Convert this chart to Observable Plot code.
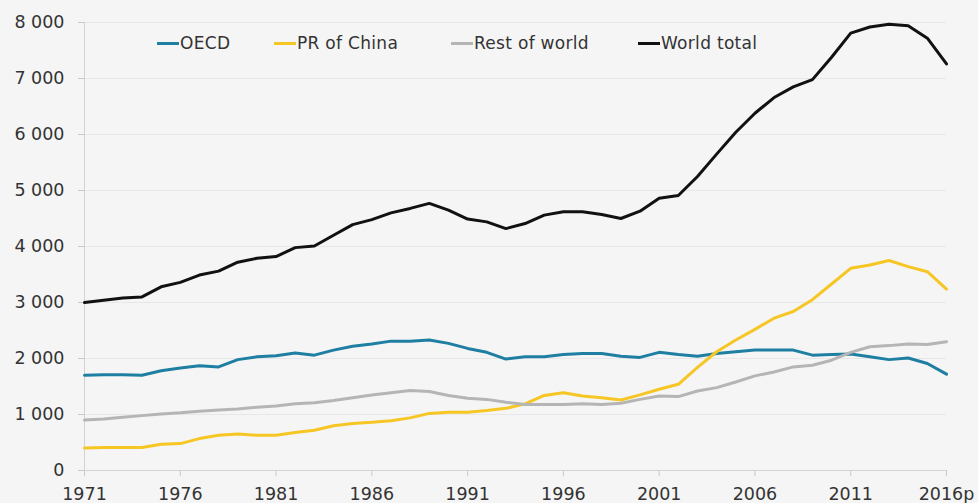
<!DOCTYPE html>
<html>
<head>
<meta charset="utf-8">
<script src="https://cdn.jsdelivr.net/npm/d3@7"></script>
<script src="https://cdn.jsdelivr.net/npm/@observablehq/plot@0.6"></script>
<style>
  html, body { margin: 0; padding: 0; background: #f5f5f5; }
  #wrap { position: relative; width: 978px; height: 503px; overflow: hidden; font-family: "DejaVu Sans", sans-serif; }
  #legend { position: absolute; left: 0; top: 33px; width: 978px; height: 24px; font-size: 17px; color: #333; }
  #legend .item { position: absolute; top: 0; display: flex; align-items: center; white-space: nowrap; letter-spacing: 0.3px; }
  #legend .sw { width: 22px; height: 3px; margin-right: 1px; }
  svg g[aria-label="x-axis tick"] path, svg g[aria-label="y-axis tick"] path { stroke: #c8c8c8; }
</style>
</head>
<body>
<div id="wrap"><div id="chart"></div><div id="legend"></div></div>
<script>
const years = d3.range(1971, 2017);
const seriesNames = ["OECD", "PR of China", "Rest of world", "World total"];
const seriesColors = ["#1f7fa2", "#f6c624", "#b5b5b5", "#111111"];
const legendLeft = [157, 274, 451, 638];
const oecd = [1700,1710,1710,1700,1780,1830,1870,1850,1980,2030,2050,2100,2060,2150,2220,2260,2310,2310,2330,2270,2180,2110,1990,2030,2030,2070,2090,2090,2040,2020,2110,2070,2040,2090,2120,2150,2150,2150,2060,2070,2080,2030,1980,2010,1910,1720];
const china = [400,410,410,410,470,480,570,630,650,630,630,680,720,800,840,860,890,940,1020,1040,1040,1070,1110,1190,1340,1390,1330,1300,1260,1350,1450,1540,1840,2120,2330,2520,2720,2840,3050,3330,3610,3670,3750,3640,3550,3240];
const rest = [900,920,950,980,1010,1030,1060,1080,1100,1130,1150,1190,1210,1250,1300,1350,1390,1430,1410,1340,1290,1270,1220,1180,1180,1180,1190,1180,1200,1270,1330,1320,1420,1480,1580,1690,1760,1850,1880,1970,2110,2210,2230,2260,2250,2300];
const world = [3000,3040,3080,3100,3280,3360,3490,3560,3720,3790,3820,3980,4010,4200,4390,4480,4600,4680,4770,4650,4490,4440,4320,4410,4560,4620,4620,4570,4500,4630,4860,4910,5250,5650,6040,6380,6660,6850,6980,7380,7810,7920,7970,7940,7720,7260];
const xTicks = [1971, 1976, 1981, 1986, 1991, 1996, 2001, 2006, 2011, 2016];
const xTickLabels = ["1971", "1976", "1981", "1986", "1991", "1996", "2001", "2006", "2011", "2016p"];
const yTicks = [0, 1000, 2000, 3000, 4000, 5000, 6000, 7000, 8000];

const valuesBySeries = [oecd, china, rest, world];
const data = [];
seriesNames.forEach((name, i) => {
  years.forEach((yr, j) => data.push({series: name, year: yr, value: valuesBySeries[i][j]}));
});

const fmt = v => d3.format(",")(v).replace(/,/g, " ");

const chart = Plot.plot({
  width: 978,
  height: 503,
  marginLeft: 84,
  marginRight: 32,
  marginTop: 22,
  marginBottom: 33,
  style: {background: "transparent", color: "#333", fontSize: "17.5px", fontFamily: "DejaVu Sans, sans-serif"},
  x: {domain: [1971, 2016], ticks: xTicks, tickFormat: d => xTickLabels[xTicks.indexOf(d)], tickSize: 6, tickPadding: 11, label: null},
  y: {domain: [0, 8000], ticks: yTicks, tickFormat: fmt, tickSize: 6, tickPadding: 14, label: null},
  color: {domain: seriesNames, range: seriesColors},
  marks: [
    Plot.ruleY(yTicks.filter(d => d > 0), {stroke: "#e7e7e7"}),
    Plot.ruleY([0], {stroke: "#d2d2d2"}),
    Plot.ruleX([1971], {stroke: "#d2d2d2"}),
    Plot.line(data, {x: "year", y: "value", z: "series", stroke: "series", strokeWidth: 3, strokeLinejoin: "round"})
  ]
});
document.getElementById("chart").appendChild(chart);

const legend = document.getElementById("legend");
seriesNames.forEach((name, i) => {
  const item = document.createElement("div");
  item.className = "item";
  item.style.left = legendLeft[i] + "px";
  const sw = document.createElement("span");
  sw.className = "sw";
  sw.style.background = seriesColors[i];
  const label = document.createElement("span");
  label.textContent = name;
  item.appendChild(sw);
  item.appendChild(label);
  legend.appendChild(item);
});
</script>
</body>
</html>
